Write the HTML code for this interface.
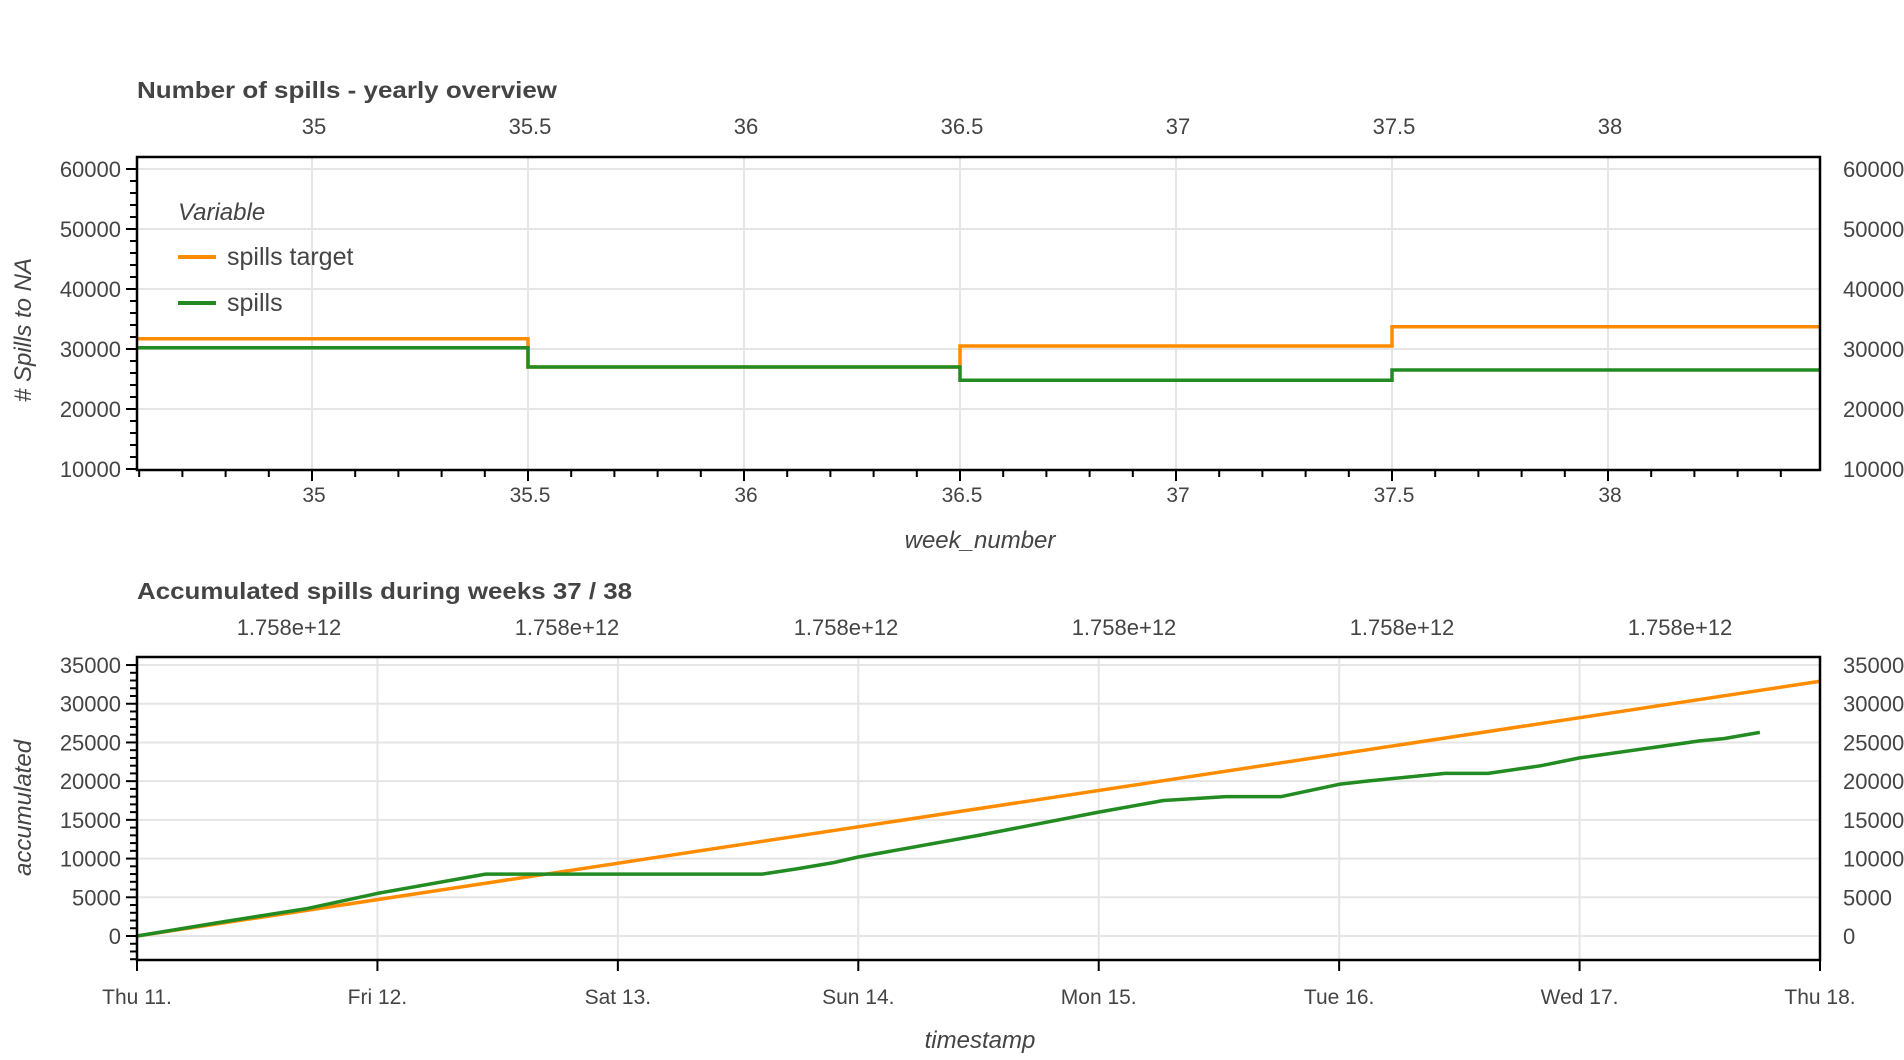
<!DOCTYPE html>
<html><head><meta charset="utf-8"><style>
html,body{margin:0;padding:0;background:#fff;width:1904px;height:1060px;overflow:hidden}
svg text{font-family:"Liberation Sans",Arial,sans-serif;fill:#444}
</style></head><body>
<svg id="s" width="1904" height="1060" xmlns="http://www.w3.org/2000/svg"></svg>
<script>
const s=document.getElementById('s');let h='';
function L(x1,y1,x2,y2,c,w){h+=`<line x1="${x1}" y1="${y1}" x2="${x2}" y2="${y2}" stroke="${c}" stroke-width="${w}"/>`;}
function T(x,y,t,o){h+=`<text x="${x}" y="${y}" ${o||''}>${t}</text>`;}
// ---------- Plot 1 ----------
const L1=137,R1=1820,T1=157,B1=470;
const X1=w=>528+(w-35.5)*432, Y1=v=>469-(v-10000)*0.006;
for(let v=20000;v<=60000;v+=10000)L(L1,Y1(v),R1,Y1(v),'#e5e5e5',2);
[35,35.5,36,36.5,37,37.5,38].forEach(w=>L(X1(w),T1,X1(w),B1,'#e5e5e5',2));
function step(vals,c){let p=`M${L1},${Y1(vals[0])}`;const b=[35.5,36.5,37.5];
 for(let i=0;i<3;i++){p+=` H${X1(b[i])} V${Y1(vals[i+1])}`;}p+=` H${R1}`;
 h+=`<path d="${p}" fill="none" stroke="${c}" stroke-width="3.5"/>`;}
step([31700,27000,30500,33700],'#ff8c00');
step([30200,27000,24800,26500],'#228b22');
h+=`<rect x="${L1}" y="${T1}" width="${R1-L1}" height="${B1-T1}" fill="none" stroke="#000" stroke-width="2.5"/>`;
for(let v=10000;v<=60000;v+=2000){const M=v%10000==0;L(M?L1-11:L1-7,Y1(v),L1,Y1(v),'#000',2);if(M)T(L1-16,Y1(v)+8,v,'text-anchor="end" font-size="22"');}
for(let v=10000;v<=60000;v+=10000)T(1843,Y1(v)+8,v,'font-size="22"');
for(let k=0;k<=39;k++){const w=34.6+k*0.1;const x=X1(w);if(x>R1+1)break;const M=Math.abs(w*2-Math.round(w*2))<1e-6;L(x,B1,x,M?B1+11:B1+7,'#000',2);}
[35,35.5,36,36.5,37,37.5,38].forEach(w=>{T(X1(w)+2,502,w,'text-anchor="middle" font-size="21"');T(X1(w)+2,134,w,'text-anchor="middle" font-size="22"');});
T(137,98,'Number of spills - yearly overview','font-size="23" font-weight="bold" textLength="420" lengthAdjust="spacingAndGlyphs"');
T(980,548,'week_number','text-anchor="middle" font-size="24" font-style="italic"');
T(0,0,'# Spills to NA','text-anchor="middle" font-size="24" font-style="italic" transform="translate(31,330) rotate(-90)"');
// legend
T(178,220,'Variable','font-size="24" font-style="italic"');
L(178,257,216,257,'#ff8c00',4);T(227,265,'spills target','font-size="25"');
L(178,303,216,303,'#228b22',4);T(227,311,'spills','font-size="25"');
// ---------- Plot 2 ----------
const L2=137,R2=1820,T2=657,B2=960;
const X2=d=>137+240.43*d, Y2=v=>936-v*0.007742;
for(let v=0;v<=35000;v+=5000)L(L2,Y2(v),R2,Y2(v),'#e5e5e5',2);
for(let d=1;d<=6;d++)L(X2(d),T2,X2(d),B2,'#e5e5e5',2);
h+=`<polyline points="${L2},${Y2(0)} ${R2},${Y2(32900)}" fill="none" stroke="#ff8c00" stroke-width="3.5"/>`;
const g=[[0,0],[0.35,1800],[0.7,3500],[1,5500],[1.45,8000],[2.6,8000],[2.75,8700],[2.9,9500],[3,10200],[3.5,13000],[4,16000],[4.27,17500],[4.53,18000],[4.76,18000],[5,19600],[5.11,20000],[5.44,21000],[5.62,21000],[5.84,22000],[6,23000],[6.5,25200],[6.6,25500],[6.75,26300]];
h+=`<polyline points="${g.map(p=>X2(p[0]).toFixed(1)+','+Y2(p[1]).toFixed(1)).join(' ')}" fill="none" stroke="#228b22" stroke-width="3.5" stroke-linejoin="round"/>`;
h+=`<rect x="${L2}" y="${T2}" width="${R2-L2}" height="${B2-T2}" fill="none" stroke="#000" stroke-width="2.5"/>`;
for(let v=-3000;v<=35000;v+=1000){const M=v%5000==0;L(M?L2-11:L2-7,Y2(v),L2,Y2(v),'#000',2);if(M&&v>=0)T(L2-16,Y2(v)+8,v,'text-anchor="end" font-size="22"');}
for(let v=0;v<=35000;v+=5000)T(1843,Y2(v)+8,v,'font-size="22"');
const days=['Thu 11.','Fri 12.','Sat 13.','Sun 14.','Mon 15.','Tue 16.','Wed 17.','Thu 18.'];
days.forEach((t,d)=>{L(X2(d),B2,X2(d),B2+11,'#000',2);T(X2(d),1004,t,'text-anchor="middle" font-size="21"');});
[289,567,846,1124,1402,1680].forEach(x=>T(x,635,'1.758e+12','text-anchor="middle" font-size="22"'));
T(137,599,'Accumulated spills during weeks 37 / 38','font-size="23" font-weight="bold" textLength="495" lengthAdjust="spacingAndGlyphs"');
T(980,1048,'timestamp','text-anchor="middle" font-size="24" font-style="italic"');
T(0,0,'accumulated','text-anchor="middle" font-size="24" font-style="italic" transform="translate(31,808) rotate(-90)"');
s.innerHTML=h;
</script>
</body></html>
